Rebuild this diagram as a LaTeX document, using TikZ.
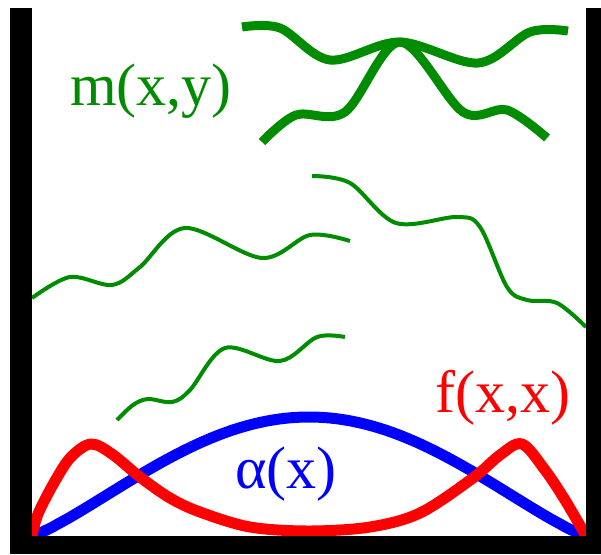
\documentclass[tikz,border=0pt]{standalone}
\usepackage{fontspec}
\setmainfont{Liberation Serif}
\definecolor{mygreen}{RGB}{0,140,0}
\definecolor{myred}{RGB}{255,0,0}
\definecolor{myblue}{RGB}{0,0,255}
\tikzset{
  wall/.style={fill=black},
  thickgreen/.style={draw=mygreen,line width=9pt,line join=round},
  thingreen/.style={draw=mygreen,line width=4pt,line join=round},
  redcurve/.style={draw=myred,line width=11pt,line join=round},
  bluecurve/.style={draw=myblue,line width=11pt,line join=round},
  lbl/.style={anchor=base west,inner sep=0pt,font=\fontsize{60}{72}\selectfont}
}
\begin{document}
\begin{tikzpicture}[x=1pt,y=-1pt]
\useasboundingbox (0,0) rectangle (601,554);
% blue curve alpha(x)
\draw[bluecurve] (32,536) -- plot[domain=0.005:0.995,samples=120] ({32+554*\x},{536-119*pow(sin(180*\x),1.2)}) -- (586,536);
% red curve f(x,x)
\draw[redcurve] plot[smooth,tension=0.55] coordinates {(32,536) (38,514) (55,481) (71,457) (91,444) (112,454) (140,477) (170,498) (200,512) (250,527) (309,531) (370,527) (420,513) (473,478) (500,455) (522,444) (545,470) (565,500) (586,536)};
% green thin curves
\draw[thingreen] plot[smooth,tension=0.55] coordinates {(32,298) (70,277) (112,285) (140,267) (185,228) (262,258) (310,235) (350,241)};
\draw[thingreen] plot[smooth,tension=0.55] coordinates {(117,420) (133,405) (148,399) (172,402) (190,390) (225,348) (280,361) (317,337) (345,337)};
\draw[thingreen] plot[smooth,tension=0.55] coordinates {(312,176) (350,183) (396,223) (457,217) (480,227) (507,287) (527,300) (557,303) (586,327)};
% green thick curves
\draw[thickgreen] plot[smooth,tension=0.55] coordinates {(242,27) (280,28) (330,60) (400,42) (478,63) (530,32) (568,31)};
\draw[thickgreen] plot[smooth,tension=0.55] coordinates {(262,142) (296,115) (345,112) (400,42) (463,112) (507,110) (547,138)};
% walls
\fill[wall] (10,8) rectangle (32,554);
\fill[wall] (586,8) rectangle (601,554);
\fill[wall] (10,536) rectangle (601,554);
% labels
\node[lbl,text=mygreen] (mlabel) at (70,105) {m(x,y)};
\node[lbl,text=myblue] (alabel) at (235,488) {α(x)};
\node[lbl,text=myred] (flabel) at (435,412) {f(x,x)};
\end{tikzpicture}
\end{document}
